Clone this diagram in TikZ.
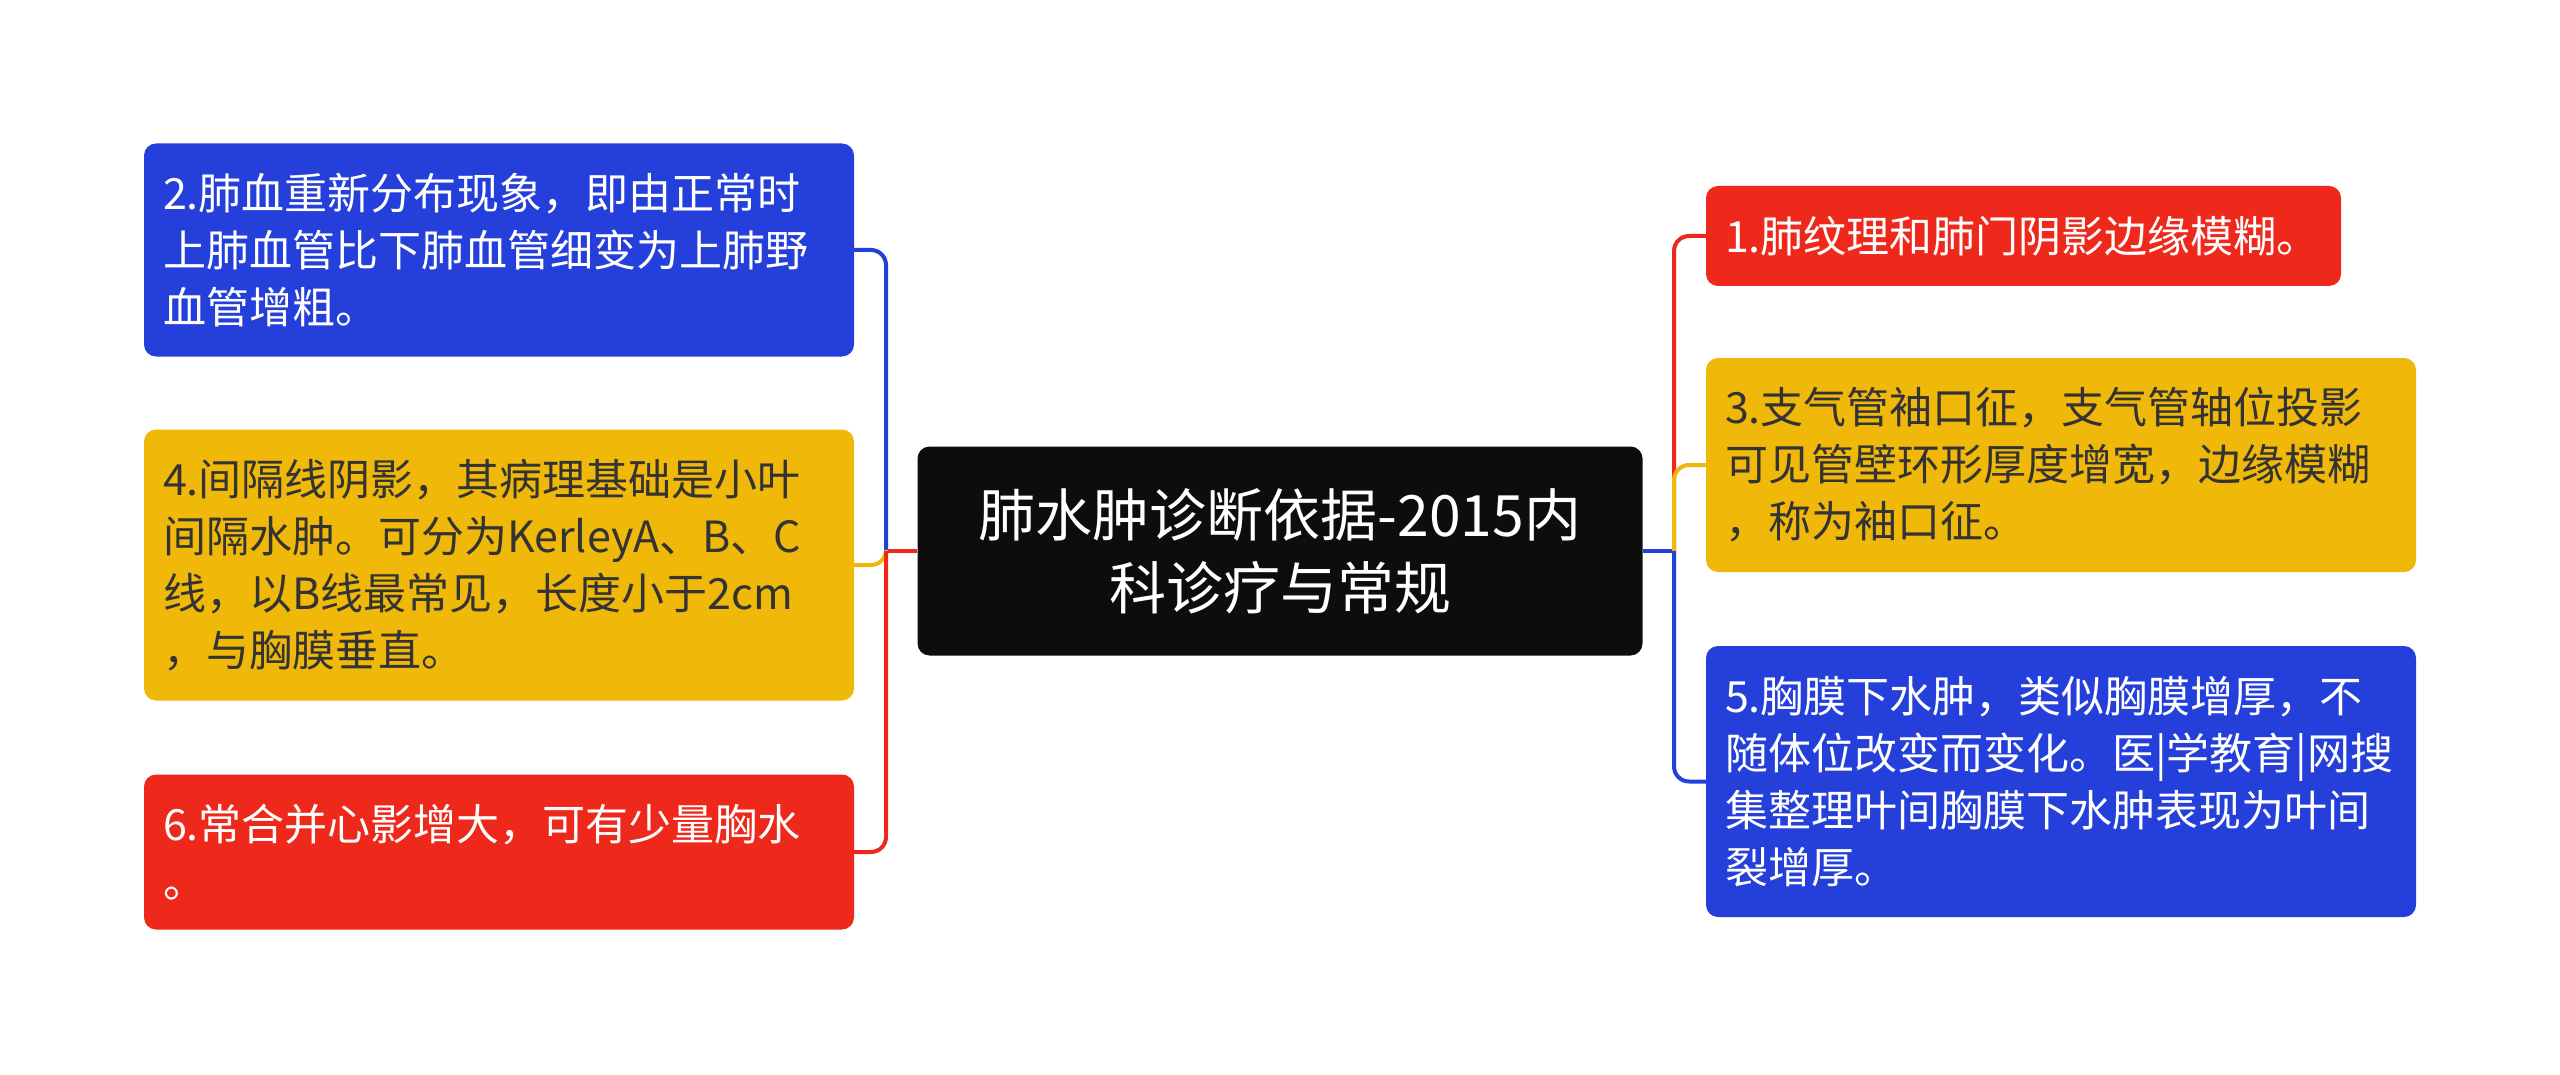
\documentclass[tikz,border=0pt]{standalone}
\usepackage{fontspec}
\setmainfont{Noto Sans CJK SC}
\usepackage{xcolor}
\definecolor{mmblue}{RGB}{37,64,218}
\definecolor{mmred}{RGB}{238,40,26}
\definecolor{mmyellow}{RGB}{240,185,10}
\definecolor{mmblack}{RGB}{13,13,13}
\definecolor{mmdark}{RGB}{51,51,51}

\begin{document}
\begin{tikzpicture}[x=1pt,y=-1pt,
    topic/.style={rounded corners=12pt,inner xsep=19pt,inner ysep=0pt,align=left,
      font=\fontsize{43}{57}\selectfont},
    leftbox/.style={topic,minimum width=710pt,text width=672pt},
    rightbox/.style={topic,minimum width=710pt,text width=672pt},
    branch/.style={line width=4pt,rounded corners=15pt}]
      \fill[white] (0,0) rectangle (2560,1075);
      % centre
      \node[rounded corners=12pt,fill=mmblack,text=white,align=center,
        minimum width=725pt,minimum height=209pt,
        font=\fontsize{57}{73}\selectfont] (ctr) at (1280,551) {肺水肿诊断依据-2015内\\科诊疗与常规};
      % left side
      \node[leftbox,fill=mmblue,text=white,minimum height=213pt] (b2) at (499,250)
        {2.肺血重新分布现象，即由正常时\\上肺血管比下肺血管细变为上肺野\\血管增粗。};
      \node[leftbox,fill=mmyellow,text=mmdark,minimum height=271pt] (b4) at (499,565)
        {4.间隔线阴影，其病理基础是小叶\\间隔水肿。可分为KerleyA、B、C\\线，以B线最常见，长度小于2cm\\，与胸膜垂直。};
      \node[leftbox,fill=mmred,text=white,minimum height=155pt] (b6) at (499,852)
        {6.常合并心影增大，可有少量胸水\\。};
      % right side
      \node[rightbox,fill=mmred,text=white,minimum width=635pt,text width=597pt,
        minimum height=100pt] (b1) at (2023.5,236) {1.肺纹理和肺门阴影边缘模糊。};
      \node[rightbox,fill=mmyellow,text=mmdark,minimum height=214pt] (b3) at (2061,465)
        {3.支气管袖口征，支气管轴位投影\\可见管壁环形厚度增宽，边缘模糊\\，称为袖口征。};
      \node[rightbox,fill=mmblue,text=white,minimum height=271pt] (b5) at (2061,781.5)
        {5.胸膜下水肿，类似胸膜增厚，不\\随体位改变而变化。医|学教育|网搜\\集整理叶间胸膜下水肿表现为叶间\\裂增厚。};
      % connectors
      \coordinate (lj) at (886,551);
      \coordinate (rj) at (1674,551);
      \draw[branch,mmred] (ctr.west) -- (lj);
      \draw[branch,mmblue] (lj) |- (b2.east);
      \draw[branch,mmyellow] (lj) |- (b4.east);
      \draw[branch,mmred] (lj) |- (b6.east);
      \draw[branch,mmblue] (ctr.east) -- (rj);
      \draw[branch,mmred] (rj) |- (b1.west);
      \draw[branch,mmyellow] (rj) |- (b3.west);
      \draw[branch,mmblue] (rj) |- (b5.west);
    \end{tikzpicture}
\end{document}
